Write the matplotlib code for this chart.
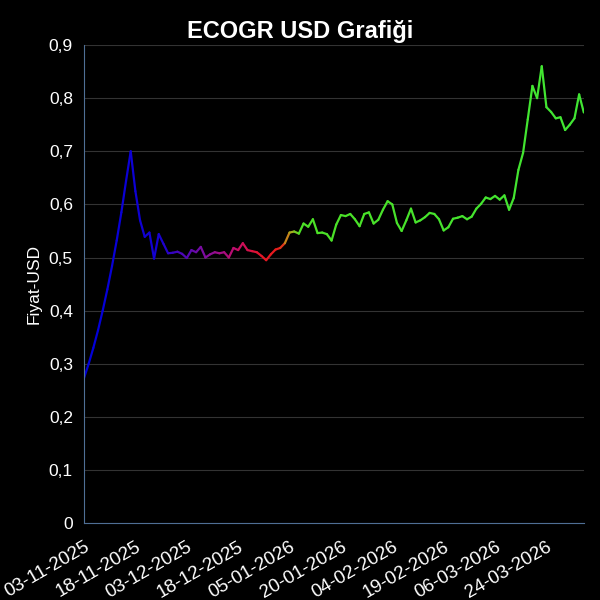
import numpy as np
import matplotlib
matplotlib.use('Agg')
import matplotlib.pyplot as plt
from matplotlib.collections import LineCollection
from matplotlib.colors import LinearSegmentedColormap
from matplotlib.ticker import FuncFormatter

# ECOGR fiyat serisi (USD), okunan degerler
prices = [
    0.273, 0.300, 0.330, 0.363, 0.400, 0.440, 0.484, 0.532, 0.585, 0.644,
    0.700, 0.625, 0.570, 0.539, 0.547, 0.498, 0.544, 0.526, 0.508, 0.509,
    0.511, 0.507, 0.499, 0.514, 0.510, 0.520, 0.500, 0.506, 0.510, 0.508,
    0.510, 0.500, 0.518, 0.514, 0.527, 0.514, 0.512, 0.510, 0.503, 0.495,
    0.506, 0.515, 0.518, 0.527, 0.547, 0.549, 0.545, 0.564, 0.558, 0.572,
    0.546, 0.547, 0.544, 0.532, 0.562, 0.580, 0.578, 0.582, 0.572, 0.559,
    0.582, 0.585, 0.564, 0.571, 0.590, 0.606, 0.600, 0.565, 0.550, 0.570,
    0.592, 0.566, 0.570, 0.576, 0.584, 0.582, 0.572, 0.551, 0.557, 0.573,
    0.575, 0.578, 0.572, 0.577, 0.592, 0.601, 0.613, 0.610, 0.616, 0.609,
    0.617, 0.590, 0.612, 0.665, 0.697, 0.760, 0.823, 0.800, 0.860, 0.783,
    0.774, 0.762, 0.764, 0.740, 0.750, 0.762, 0.807, 0.773,
]
tick_labels = ['03-11-2025', '18-11-2025', '03-12-2025', '18-12-2025', '05-01-2026',
               '20-01-2026', '04-02-2026', '19-02-2026', '06-03-2026', '24-03-2026']
tick_step = 11

# renk gecisi (mavi -> mor -> kirmizi -> yesil)
n = len(prices)
stops = [(0, (0.0, 0.0, 0.85)), (16, (0.08, 0.0, 0.82)), (26, (0.5, 0.05, 0.62)),
         (33, (0.78, 0.05, 0.4)), (38, (0.9, 0.08, 0.15)), (42, (0.9, 0.12, 0.1)),
         (44, (0.75, 0.6, 0.1)), (46, (0.3, 0.88, 0.15)), (n - 1, (0.25, 0.9, 0.2))]
cmap = LinearSegmentedColormap.from_list('trend', [(i / (n - 1), c) for i, c in stops])

x = np.arange(n)
y = np.array(prices)
pts = np.column_stack([x, y]).reshape(-1, 1, 2)
segs = np.concatenate([pts[:-1], pts[1:]], axis=1)

fig = plt.figure(figsize=(6, 6), dpi=100, facecolor='black')
ax = fig.add_axes([0.14, 0.128, 0.833, 0.797])
ax.set_facecolor('black')

lc = LineCollection(segs, cmap=cmap, linewidth=1.6, capstyle='round', joinstyle='round')
lc.set_array((x[:-1] + 0.5) / (n - 1))
lc.set_clim(0, 1)
ax.add_collection(lc)

ax.set_xlim(0, n - 1)
ax.set_ylim(0, 0.9)
ax.set_yticks(np.arange(0, 0.91, 0.1))
ax.yaxis.set_major_formatter(FuncFormatter(lambda v, p: '0' if abs(v) < 1e-9 else f'{v:.1f}'.replace('.', ',')))
ax.set_xticks(np.arange(len(tick_labels)) * tick_step)
ax.set_xticklabels(tick_labels, rotation=30, ha='right', rotation_mode='anchor')

ax.grid(axis='y', color='#333333', linewidth=0.8)
ax.set_axisbelow(True)
for s in ['top', 'right']:
    ax.spines[s].set_visible(False)
for s in ['left', 'bottom']:
    ax.spines[s].set_color('#4f6f95')
ax.tick_params(colors='white', labelsize=12.5, length=0)
ax.tick_params(axis='x', labelsize=13.5, pad=11)
ax.tick_params(axis='y', pad=8)
for lab in ax.get_xticklabels() + ax.get_yticklabels():
    lab.set_fontfamily('Liberation Sans')

ax.set_ylabel('Fiyat-USD', color='white', fontsize=12.5, family='Liberation Sans', labelpad=5)
fig.suptitle('ECOGR USD Grafiği', color='white', fontsize=17, fontweight='bold',
             family='Liberation Sans', y=0.967)

fig.savefig('out.png', dpi=100, facecolor='black')
